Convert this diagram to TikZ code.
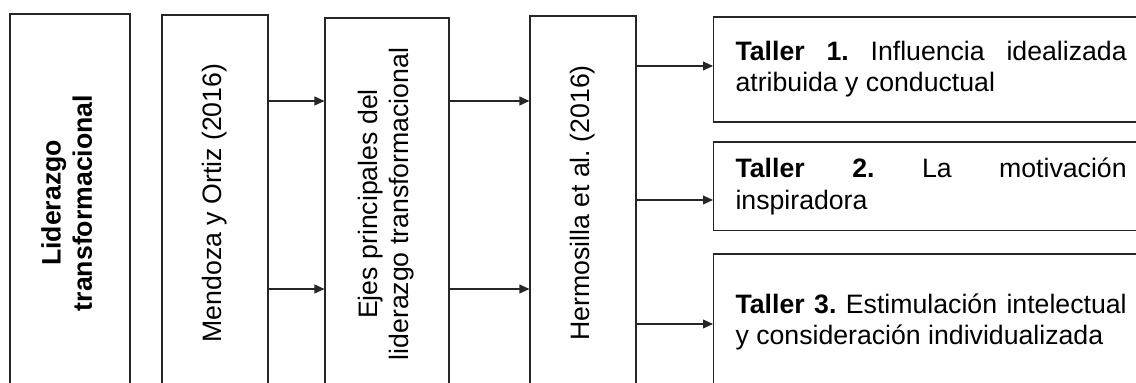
\documentclass[tikz,border=0pt]{standalone}
\usepackage{fontspec}
\setmainfont{Liberation Sans}
\usetikzlibrary{arrows.meta,positioning}
\hyphenpenalty=10000
\tolerance=10000
\frenchspacing

\begin{document}
\begin{tikzpicture}[
    x=0.45pt, y=-0.45pt,
    box/.style={rectangle, draw=black!85, line width=0.5pt, inner sep=0pt, font=\fontsize{12}{14}\selectfont},
    taller/.style={box, anchor=west, text width=176pt, inner xsep=9.9pt, align=justify},
    arrow/.style={-{Triangle[length=4.5pt, width=4pt]}, draw=black!85, line width=0.5pt}
]
    \useasboundingbox (0,0) rectangle (1136,383);
    \clip (0,0) rectangle (1136,383);

    % Cajas verticales
    \node[box, minimum width=54pt, minimum height=170.1pt] (lider) at (70,203)
        {\rotatebox{90}{\begin{tabular}{@{}c@{}}\textbf{Liderazgo}\\\textbf{transformacional}\end{tabular}}};
    \node[box, minimum width=47.7pt, minimum height=169.2pt] (mend) at (215,203)
        {\rotatebox{90}{Mendoza y Ortiz (2016)}};
    \node[box, minimum width=55.8pt, minimum height=167.4pt] (ejes) at (387,204)
        {\rotatebox{90}{\begin{tabular}{@{}c@{}}Ejes principales del\\liderazgo transformacional\end{tabular}}};
    \node[box, minimum width=47.7pt, minimum height=168.3pt] (herm) at (583,203)
        {\rotatebox{90}{Hermosilla et al. (2016)}};

    % Talleres
    \node[taller, minimum height=47.25pt] (t1) at (713,69.5)
        {\textbf{Taller 1.} Influencia idealizada atribuida y conductual};
    \node[taller, minimum height=40pt] (t2) at (713,186.5)
        {\textbf{Taller 2.} La motivación inspiradora};
    \node[taller, minimum height=61.2pt] (t3) at (713,322)
        {\textbf{Taller 3.} Estimulación intelectual y consideración individualizada};

    % Alturas de las flechas
    \coordinate (f1) at (0,101);
    \coordinate (f2) at (0,289);
    \coordinate (g1) at (0,66);
    \coordinate (g2) at (0,200);
    \coordinate (g3) at (0,324);

    % Flechas
    \draw[arrow] (mend.east |- f1) -- (ejes.west |- f1);
    \draw[arrow] (mend.east |- f2) -- (ejes.west |- f2);
    \draw[arrow] (ejes.east |- f1) -- (herm.west |- f1);
    \draw[arrow] (ejes.east |- f2) -- (herm.west |- f2);
    \draw[arrow] (herm.east |- g1) -- (t1.west |- g1);
    \draw[arrow] (herm.east |- g2) -- (t2.west |- g2);
    \draw[arrow] (herm.east |- g3) -- (t3.west |- g3);

\end{tikzpicture}
\end{document}
